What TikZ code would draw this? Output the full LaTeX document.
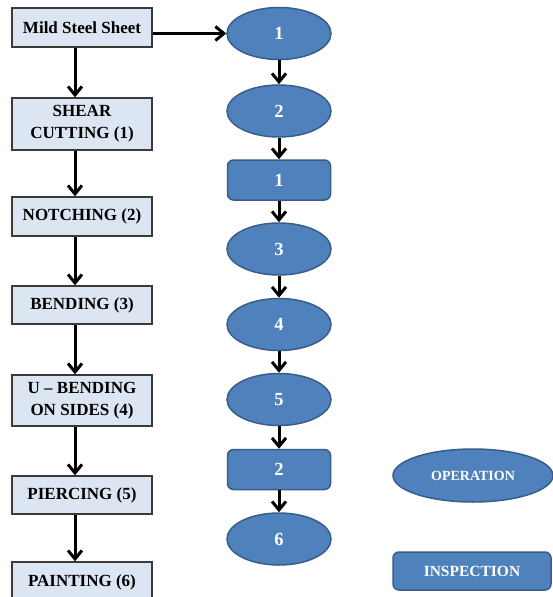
\documentclass[tikz,border=0pt]{standalone}
\usepackage{fontspec}
\setmainfont{Liberation Serif}
\usetikzlibrary{shapes.geometric,arrows.meta}
\definecolor{stagefill}{HTML}{DCE6F2}
\definecolor{stageline}{HTML}{3A3A3A}
\definecolor{opfill}{HTML}{4F81BD}
\definecolor{opline}{HTML}{385D8A}
\tikzset{
  stage/.style={draw=stageline, line width=1.4pt, fill=stagefill, minimum width=140pt,
    align=center, inner sep=0pt, font=\fontsize{17}{22}\selectfont\bfseries},
  opnode/.style={ellipse, draw=opline, line width=1.5pt, fill=opfill, text=white,
    minimum width=104pt, minimum height=52pt, inner sep=0pt,
    font=\fontsize{18.5}{20}\selectfont\bfseries},
  inspnode/.style={rectangle, rounded corners=6pt, draw=opline, line width=1.5pt, fill=opfill,
    text=white, minimum width=103pt, minimum height=40pt, inner sep=0pt,
    font=\fontsize{18.5}{20}\selectfont\bfseries},
  flow/.style={line width=3pt, -{Straight Barb[length=8.5pt,width=14pt,line width=3pt]}}
}
\begin{document}
\begin{tikzpicture}[x=1pt,y=-1pt]
  \useasboundingbox (0,0) rectangle (552,597);

  % process stages
  \node[stage, minimum height=39pt] (m)  at (82,27.5)  {Mild Steel Sheet};
  \node[stage, minimum height=52pt] (s1) at (82,124)   {SHEAR\\CUTTING (1)};
  \node[stage, minimum height=39pt] (s2) at (82,216.5) {NOTCHING (2)};
  \node[stage, minimum height=38pt] (s3) at (82,305)   {BENDING (3)};
  \node[stage, minimum height=51pt] (s4) at (82,400.5) {U -- BENDING\\ON SIDES (4)};
  \node[stage, minimum height=38pt] (s5) at (82,495)   {PIERCING (5)};
  \node[stage, minimum height=40pt] (s6) at (82,582)   {PAINTING (6)};

  % operations and inspections
  \node[opnode]   (o1) at (279,33.5) {1};
  \node[opnode]   (o2) at (279,111)  {2};
  \node[inspnode] (i1) at (279,180)  {1};
  \node[opnode]   (o3) at (279,249)  {3};
  \node[opnode]   (o4) at (279,324.5){4};
  \node[opnode]   (o5) at (279,399.5){5};
  \node[inspnode] (i2) at (279,469.5){2};
  \node[opnode]   (o6) at (279,539)  {6};

  % legend
  \node[opnode, minimum width=160pt, minimum height=53pt,
        font=\fontsize{14}{16}\selectfont\bfseries] (lo) at (473,475.5) {OPERATION};
  \node[inspnode, minimum width=158pt, minimum height=38pt,
        font=\fontsize{15.5}{18}\selectfont\bfseries] (li) at (472,571) {INSPECTION};

  % stage flow
  \foreach \a/\b in {m/s1, s1/s2, s2/s3, s3/s4, s4/s5, s5/s6}
    \draw[flow] ([xshift=-7pt]\a.south) -- ([xshift=-7pt]\b.north);

  % sheet to first operation
  \draw[flow] (m.east |- o1.west) -- (o1.west);

  % operation sequence
  \foreach \a/\b in {o1/o2, o2/i1, i1/o3, o3/o4, o4/o5, o5/i2, i2/o6}
    \draw[flow] (\a.south) -- (\b.north);
\end{tikzpicture}
\end{document}
